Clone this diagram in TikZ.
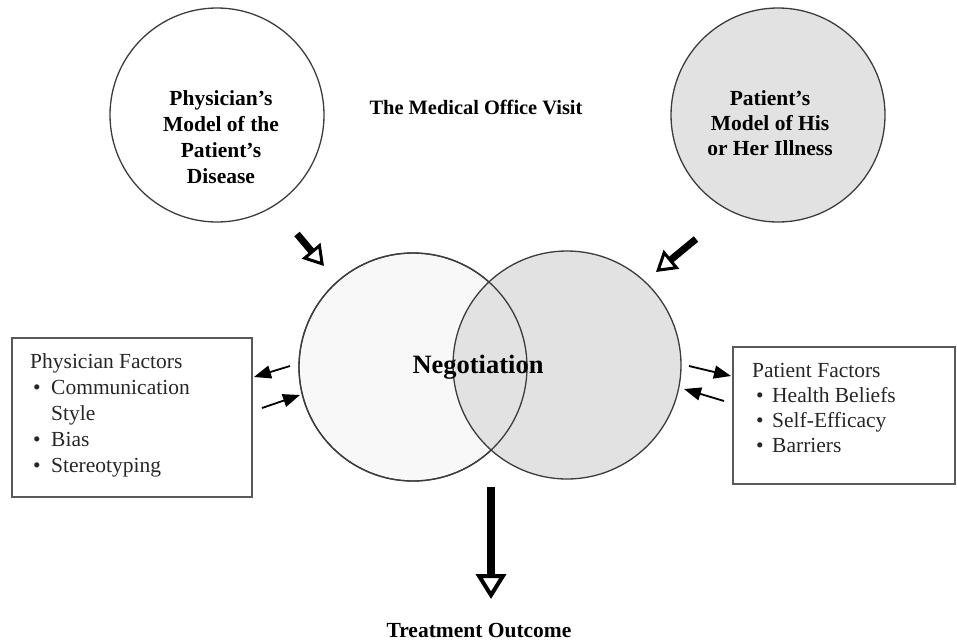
\documentclass[tikz,border=0pt]{standalone}
\usepackage{fontspec}
\setmainfont{Liberation Serif}
\usetikzlibrary{arrows.meta}
\definecolor{hatch}{HTML}{E2E2E2}
\definecolor{faint}{HTML}{F8F8F8}
\definecolor{ink}{HTML}{3C3C3C}
\begin{document}
\begin{tikzpicture}[x=1pt,y=-1pt,
  ring/.style={circle, draw=ink, line width=1.3pt, inner sep=0pt, minimum size=#1},
  ctext/.style={font=\fontsize{21.5}{26}\selectfont\bfseries, anchor=base, inner sep=0pt},
  btext/.style={font=\fontsize{21.5}{26}\selectfont, anchor=base west, inner sep=0pt, text=black!85},
  factbox/.style={draw=ink!85, line width=1.5pt, inner sep=0pt},
  thinarrow/.style={line width=1.8pt, -{Triangle[length=17pt,width=13pt]}},
  bigarrow/.style={line width=7pt, -{Triangle[open,length=20pt,width=24pt,line width=3pt]}},
  hugearrow/.style={line width=8pt, -{Triangle[open,length=25pt,width=30pt,line width=4pt]}},
]
\useasboundingbox (0,0) rectangle (957,640);

% top circles
\node[ring=214pt, fill=white] (phys) at (217,115) {};
\node[ring=214pt, fill=hatch] (pat) at (778,115) {};

% negotiation circles
\node[ring=228pt, fill=faint] (negL) at (413,367) {};
\node[ring=228pt, fill=hatch] (negR) at (567,365) {};
\draw[ink, line width=1.3pt] (negL.center) circle[radius=114];

% circle texts
\node[ctext] (pm1) at (221,105) {Physician’s};
\node[ctext] (pm2) at (221,131) {Model of the};
\node[ctext] (pm3) at (221,157) {Patient’s};
\node[ctext] (pm4) at (221,183) {Disease};

\node[ctext] (qm1) at (770,105) {Patient’s};
\node[ctext] (qm2) at (770,130) {Model of His};
\node[ctext] (qm3) at (770,155) {or Her Illness};

\node[font=\fontsize{20.4}{24}\selectfont\bfseries, anchor=base, inner sep=0pt] (visit) at (476,114) {The Medical Office Visit};
\node[font=\fontsize{26.5}{30}\selectfont\bfseries, anchor=base, inner sep=0pt] (nego) at (478,373) {Negotiation};
\node[font=\fontsize{21.5}{26}\selectfont\bfseries, anchor=base, inner sep=0pt] (outcome) at (479,637) {Treatment Outcome};

% factor boxes
\node[factbox, minimum width=240pt, minimum height=159pt] (pfbox) at (132,417.5) {};
\node[factbox, minimum width=222pt, minimum height=137pt] (qfbox) at (844,415.5) {};

\node[btext] (pf0) at (30,368) {Physician Factors};
\node[btext] (pfb1) at (33,394) {\textbullet};
\node[btext] (pf1) at (51,394) {Communication};
\node[btext] (pf1b) at (51,420) {Style};
\node[btext] (pfb2) at (33,446) {\textbullet};
\node[btext] (pf2) at (51,446) {Bias};
\node[btext] (pfb3) at (33,472) {\textbullet};
\node[btext] (pf3) at (51,472) {Stereotyping};

\node[btext] (qf0) at (752,377) {Patient Factors};
\node[btext] (qfb1) at (756,402) {\textbullet};
\node[btext] (qf1) at (772,402) {Health Beliefs};
\node[btext] (qfb2) at (756,427) {\textbullet};
\node[btext] (qf2) at (772,427) {Self-Efficacy};
\node[btext] (qfb3) at (756,452) {\textbullet};
\node[btext] (qf3) at (772,452) {Barriers};

% small arrows
\coordinate (a1s) at (290,366); \coordinate (a1e) at (254,377);
\coordinate (a2s) at (262,408); \coordinate (a2e) at (300,395);
\coordinate (a3s) at (689,366); \coordinate (a3e) at (731,376);
\coordinate (a4s) at (724,401); \coordinate (a4e) at (684,389);
\draw[thinarrow] (a1s) -- (a1e);
\draw[thinarrow] (a2s) -- (a2e);
\draw[thinarrow] (a3s) -- (a3e);
\draw[thinarrow] (a4s) -- (a4e);

% big arrows
\coordinate (b1s) at (297,234); \coordinate (b1e) at (324,266);
\coordinate (b2s) at (696,239); \coordinate (b2e) at (656,272);
\coordinate (b3s) at (491,487); \coordinate (b3e) at (491,599);
\draw[bigarrow] (b1s) -- (b1e);
\draw[bigarrow] (b2s) -- (b2e);
\draw[hugearrow] (b3s) -- (b3e);
\end{tikzpicture}
\end{document}
